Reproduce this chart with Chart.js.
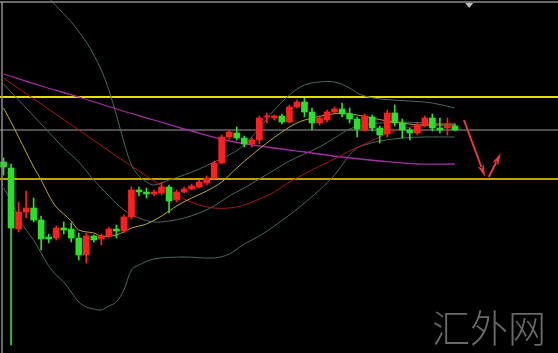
<!DOCTYPE html>
<html>
<head>
<meta charset="utf-8">
<script src="https://cdn.jsdelivr.net/npm/chart.js@4.4.1/dist/chart.umd.min.js"></script>
<style>
  html, body { margin: 0; padding: 0; background: #000; }
  #wrap { width: 558px; height: 353px; }
</style>
</head>
<body>
<div id="wrap"><canvas id="chart" width="558" height="353"></canvas></div>
<script>
// candle data, one entry per bar (index = position on the x axis)
const opens  = [1219, 1216, 1185.5, 1194, 1196, 1190, 1181.5, 1181, 1186, 1185.5, 1181, 1172.5, 1182, 1180.5, 1182, 1185.5, 1184.5, 1191.5, 1205, 1204, 1203, 1203.5, 1206.5, 1200, 1204, 1205.5, 1206.5, 1208.5, 1211, 1218.5, 1231.5, 1233.5, 1231, 1228, 1230, 1241.5, 1241, 1242, 1239, 1246.5, 1249, 1244, 1238.5, 1240, 1244, 1245.5, 1243, 1240.5, 1235, 1241.5, 1236, 1233, 1243.5, 1238.5, 1235, 1233.5, 1237.5, 1241, 1236, 1236, 1237];
const highs  = [1221, 1218, 1199, 1204.5, 1201, 1192, 1183, 1187, 1189, 1188.5, 1183.5, 1183.5, 1182.5, 1183, 1186.5, 1187.5, 1192.5, 1206.5, 1206.5, 1206, 1205, 1209, 1207.5, 1205, 1206.5, 1208, 1210, 1212, 1219.5, 1232.5, 1235, 1236.5, 1232, 1231, 1242, 1243.5, 1242.5, 1243, 1247.5, 1250, 1251, 1246, 1242, 1245, 1246.5, 1248.5, 1246, 1241.5, 1243, 1242.5, 1237, 1245, 1247.5, 1240.5, 1236, 1239, 1242, 1243, 1241, 1241, 1238];
const lows   = [1212.5, 1127.5, 1184, 1191, 1189, 1175, 1178.5, 1180, 1183, 1179, 1170, 1168.5, 1179, 1177.5, 1181, 1181, 1183.5, 1190.5, 1202, 1201, 1202, 1202.5, 1193.5, 1199, 1203.5, 1205, 1206, 1207.5, 1210.5, 1218, 1230.5, 1230, 1226.5, 1226.5, 1228, 1238.5, 1240, 1238, 1238.5, 1246, 1241.5, 1235, 1237.5, 1239, 1243.5, 1241.5, 1238.5, 1231.5, 1234.5, 1234.5, 1228.5, 1231.5, 1237, 1231, 1230, 1232.5, 1236.5, 1234.5, 1233.5, 1232.5, 1234.5];
const closes = [1216.5, 1186, 1194, 1196, 1190, 1180.5, 1180.5, 1186, 1185, 1181, 1172.5, 1182, 1180, 1182, 1185.5, 1184.5, 1191.5, 1205, 1204, 1203, 1204, 1206.5, 1199.5, 1204, 1205.5, 1207, 1209, 1211, 1218.5, 1231.5, 1234, 1231, 1228, 1230, 1241, 1242, 1242, 1239, 1246.5, 1249, 1244, 1238.5, 1241, 1244, 1245.5, 1243, 1240.5, 1235.5, 1242, 1236, 1232.5, 1243.5, 1238.5, 1235, 1233.5, 1237.5, 1241, 1236, 1235, 1237, 1235];

// indicator lines, read at sampled bar positions
const maLongIdx = [0, 5, 10, 15, 20, 25, 30, 35, 40, 45, 50, 55, 60];
const maLong    = [1263, 1257, 1251.5, 1245.5, 1240, 1234.5, 1229.5, 1226.5, 1224, 1221.5, 1219.5, 1218, 1218];

const maMidIdx = [0, 5, 10, 15, 18, 20, 22, 24, 26, 28, 30, 32, 34, 36, 38, 40, 42, 44, 46, 48, 50, 52, 54, 56, 58, 60];
const maMid    = [1261, 1248, 1235, 1222, 1214.5, 1209.5, 1204.5, 1200.5, 1197.5, 1196, 1196, 1197.5, 1200.5, 1204, 1209, 1213, 1217, 1220.5, 1224.5, 1228, 1231.5, 1234.5, 1236.5, 1237.5, 1238, 1238.5];

const maShortIdx = [0, 1, 2, 3, 4, 5, 6, 7, 8, 9, 10, 12, 13, 15, 17, 19, 21, 23, 25, 27, 29, 31, 33, 35, 37, 39, 41, 43, 45, 47, 49, 51, 53, 55, 57, 60];
const maShort    = [1246, 1239, 1231.5, 1224, 1216.5, 1210, 1202.5, 1196.5, 1193, 1189.5, 1185, 1183.5, 1182, 1182.5, 1186, 1188, 1192, 1197, 1201, 1204.5, 1209, 1216, 1222.5, 1228.5, 1234, 1238.5, 1241, 1242.5, 1243.5, 1242.5, 1241, 1239.5, 1238.5, 1237.5, 1237.5, 1237.5];

const bbUpIdx = [5, 7, 9, 11, 12, 13, 14, 15, 16, 17, 18, 19, 20, 22, 24, 26, 28, 30, 32, 34, 36, 38, 40, 42, 44, 46, 47, 48, 50, 54, 57, 60];
const bbUp    = [1305, 1297, 1289, 1279, 1272.5, 1265, 1255, 1242.5, 1229, 1217.5, 1212, 1209, 1207.5, 1210, 1212.5, 1215.5, 1219, 1222.5, 1227.5, 1236, 1245, 1252.5, 1257.5, 1259, 1259, 1256, 1253.5, 1252, 1250.5, 1249.5, 1248.5, 1246];

const bbMidIdx = [0, 5, 8, 10, 12, 14, 16, 18, 20, 22, 24, 26, 28, 30, 32, 34, 36, 38, 40, 42, 44, 46, 48, 50, 53, 56, 60];
const bbMid    = [1258, 1238, 1226, 1219, 1210, 1202, 1195, 1191, 1189, 1189.5, 1191, 1193.5, 1197, 1202, 1206, 1210.5, 1215, 1219.5, 1223, 1226.5, 1231, 1235.5, 1237.5, 1238.5, 1239, 1238.5, 1238];

const bbLowIdx = [0, 1, 2, 3, 4, 5, 6, 7, 8, 9, 10, 11, 12, 13, 14, 15, 16, 17, 18, 20, 24, 28, 30, 32, 34, 36, 38, 40, 42, 44, 46, 47, 48, 50, 53, 56, 60];
const bbLow    = [1206, 1200, 1191, 1185, 1180, 1173.5, 1167, 1162.5, 1159, 1154, 1149, 1146.5, 1145.5, 1145, 1147, 1149, 1155, 1165, 1167.5, 1170.5, 1171.5, 1171, 1173, 1178, 1182, 1187, 1192.5, 1198.5, 1205, 1212.5, 1222.5, 1226, 1227.5, 1229.5, 1231, 1231.5, 1231.5];

// horizontal levels
const levelTop = 1251.5;
const levelPivot = 1235;
const levelBottom = 1210.5;

// hand drawn arrows: [x1, price1, x2, price2]
const arrowDown = [61.2, 1240, 64.0, 1211.5];
const arrowUp = [64.5, 1211.5, 66.1, 1223.5];

const watermark = '汇外网';

const UP = '#ff1f1f';
const DOWN = '#2be02b';
const BAND = '#48695e';

const candleColors = opens.map((o, i) => closes[i] >= o ? UP : DOWN);

function pts(idx, vals) {
  return idx.map((x, i) => ({ x: x, y: vals[i] }));
}

function level(v) {
  return [{ x: -1, y: v }, { x: 75, y: v }];
}

function lineSet(data, color, width, order) {
  return {
    type: 'line',
    data: data,
    borderColor: color,
    borderWidth: width,
    pointRadius: 0,
    tension: 0.35,
    fill: false,
    order: order
  };
}

const decorPlugin = {
  id: 'decor',
  beforeDatasetsDraw(chart) {
    const ctx = chart.ctx;
    ctx.save();
    ctx.fillStyle = '#6a6a6a';
    ctx.font = '300 38px "Noto Sans CJK SC"';
    ctx.textBaseline = 'alphabetic';
    ctx.fillText(watermark, 432, 342);
    ctx.restore();
  },
  afterDatasetsDraw(chart) {
    const ctx = chart.ctx;
    const xs = chart.scales.x;
    const ys = chart.scales.y;

    // frame
    ctx.save();
    ctx.strokeStyle = '#8c8c8c';
    ctx.lineWidth = 1.5;
    ctx.beginPath();
    ctx.moveTo(0, 2);
    ctx.lineTo(558, 2);
    ctx.moveTo(2, 2);
    ctx.lineTo(2, 353);
    ctx.stroke();

    // small marker at the top
    const tx = xs.getPixelForValue(61.9);
    ctx.fillStyle = '#bdbdbd';
    ctx.beginPath();
    ctx.moveTo(tx - 4, 3);
    ctx.lineTo(tx + 4, 3);
    ctx.lineTo(tx, 8);
    ctx.closePath();
    ctx.fill();

    // arrows
    function arrow(a) {
      const x1 = xs.getPixelForValue(a[0]);
      const y1 = ys.getPixelForValue(a[1]);
      const x2 = xs.getPixelForValue(a[2]);
      const y2 = ys.getPixelForValue(a[3]);
      const ang = Math.atan2(y2 - y1, x2 - x1);
      const len = 13;
      ctx.strokeStyle = '#e83a3a';
      ctx.fillStyle = '#e83a3a';
      ctx.lineWidth = 2;
      ctx.beginPath();
      ctx.moveTo(x1, y1);
      ctx.lineTo(x2 - Math.cos(ang) * len * 0.8, y2 - Math.sin(ang) * len * 0.8);
      ctx.stroke();
      ctx.beginPath();
      ctx.moveTo(x2, y2);
      ctx.lineTo(x2 - Math.cos(ang - 0.25) * len, y2 - Math.sin(ang - 0.25) * len);
      ctx.lineTo(x2 - Math.cos(ang) * len * 0.7, y2 - Math.sin(ang) * len * 0.7);
      ctx.lineTo(x2 - Math.cos(ang + 0.25) * len, y2 - Math.sin(ang + 0.25) * len);
      ctx.closePath();
      ctx.fill();
    }
    arrow(arrowDown);
    arrow(arrowUp);
    ctx.restore();
  }
};

const config = {
  type: 'bar',
  data: {
    datasets: [
      {
        type: 'bar',
        data: opens.map((o, i) => ({ x: i, y: [o, closes[i]] })),
        backgroundColor: candleColors,
        barThickness: 6,
        minBarLength: 1,
        grouped: false,
        order: 0
      },
      {
        type: 'bar',
        data: lows.map((l, i) => ({ x: i, y: [l, highs[i]] })),
        backgroundColor: candleColors,
        barThickness: 1,
        grouped: false,
        order: 1
      },
      lineSet(pts(maShortIdx, maShort), '#b9a83a', 1, 2),
      lineSet(pts(maMidIdx, maMid), '#a81818', 1, 3),
      lineSet(pts(maLongIdx, maLong), '#a42ca4', 1.3, 4),
      lineSet(pts(bbUpIdx, bbUp), BAND, 1, 5),
      lineSet(pts(bbMidIdx, bbMid), BAND, 1, 6),
      lineSet(pts(bbLowIdx, bbLow), BAND, 1, 7),
      lineSet(level(levelPivot), '#4e4e4e', 2, 8),
      lineSet(level(levelTop), '#e2e200', 2, 9),
      lineSet(level(levelBottom), '#c3a200', 2, 10)
    ]
  },
  options: {
    responsive: false,
    animation: false,
    layout: { padding: 0 },
    plugins: {
      legend: { display: false },
      tooltip: { enabled: false }
    },
    scales: {
      x: {
        type: 'linear',
        display: false,
        min: -0.47,
        max: 73.7,
        offset: false
      },
      y: {
        type: 'linear',
        display: false,
        min: 1123.5,
        max: 1300
      }
    }
  },
  plugins: [decorPlugin]
};

new Chart(document.getElementById('chart'), config);
</script>
</body>
</html>
